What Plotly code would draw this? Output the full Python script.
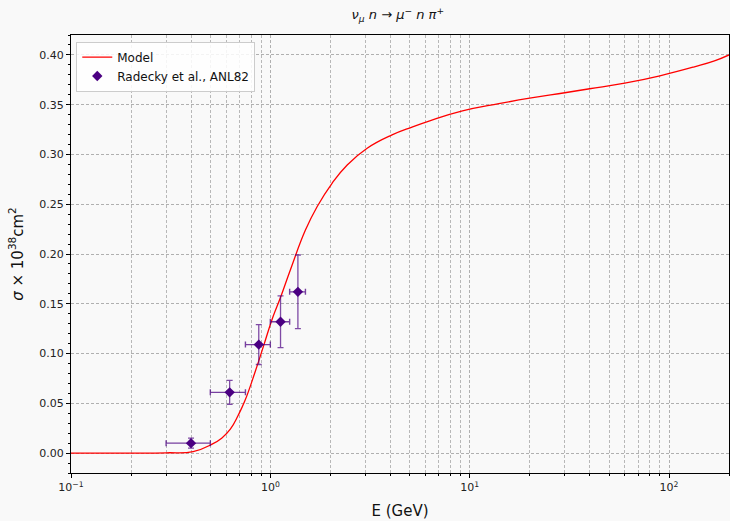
import plotly.graph_objects as go

# Model curve
model_E = [0.1, 0.2, 0.3, 0.41, 0.51, 0.57, 0.63, 0.69, 0.747, 0.84, 0.926, 1.027, 1.123, 1.26,
           1.50, 1.716, 2.04, 2.43, 3.06, 4.08, 5.14, 6.36, 9.2, 14, 20, 30, 40, 60, 90, 134, 169, 200]
model_sigma = [0.0, 0.0, 0.0003, 0.0015, 0.009, 0.015, 0.024, 0.038, 0.053, 0.082, 0.108, 0.136,
               0.156, 0.184, 0.224, 0.2475, 0.271, 0.2894, 0.3062, 0.3196, 0.3275, 0.334,
               0.3437, 0.351, 0.3565, 0.362, 0.366, 0.3716, 0.379, 0.388, 0.394, 0.400]

# Data points: Radecky et al., ANL82
data_E = [0.4, 0.625, 0.875, 1.125, 1.375]
data_E_lo = [0.1, 0.125, 0.125, 0.125, 0.125]
data_E_hi = [0.1, 0.125, 0.125, 0.125, 0.125]
data_sigma = [0.010, 0.061, 0.109, 0.132, 0.162]
data_sigma_err = [0.005, 0.012, 0.020, 0.026, 0.037]

xtick_vals = [0.1, 1, 10, 100]
xtick_text = ["10<sup>−1</sup>", "10<sup>0</sup>", "10<sup>1</sup>", "10<sup>2</sup>"]
xminor_vals = [0.2, 0.3, 0.4, 0.5, 0.6, 0.7, 0.8, 0.9,
               2, 3, 4, 5, 6, 7, 8, 9,
               20, 30, 40, 50, 60, 70, 80, 90, 200]
ytick_vals = [0.0, 0.05, 0.10, 0.15, 0.20, 0.25, 0.30, 0.35, 0.40]
yminor_vals = [v / 100 for v in range(-2, 43) if v % 5 != 0]

fig = go.Figure()
fig.add_trace(go.Scatter(
    x=model_E, y=model_sigma, mode="lines", name="Model",
    line=dict(color="red", width=1.3, shape="spline", smoothing=1.3, simplify=False),
))
fig.add_trace(go.Scatter(
    x=data_E, y=data_sigma, mode="markers", name="Radecky et al., ANL82",
    marker=dict(symbol="diamond", size=8, color="#4B0082"),
    error_x=dict(type="data", symmetric=False, array=data_E_hi, arrayminus=data_E_lo,
                 color="rgba(75,0,130,0.75)", thickness=1.4, width=3),
    error_y=dict(type="data", array=data_sigma_err,
                 color="rgba(75,0,130,0.7)", thickness=1.3, width=3),
))

grid = dict(showgrid=True, gridcolor="#b0b0b0", griddash="3px,2px", gridwidth=1)
fig.update_layout(
    width=730, height=521,
    margin=dict(l=71, r=1, t=35, b=48),
    paper_bgcolor="#f9f9f9", plot_bgcolor="rgba(0,0,0,0)",
    font=dict(family="DejaVu Sans", color="#222", size=11),
    title=dict(text="<i>ν<sub>μ</sub> n</i> → <i>μ<sup>−</sup> n π<sup>+</sup></i>",
               x=0.545, xanchor="center", y=0.972, yanchor="middle",
               font=dict(size=13, color="#111")),
    showlegend=True,
    legend=dict(x=0.008, y=0.985, xanchor="left", yanchor="top",
                bgcolor="rgba(255,255,255,0.85)", bordercolor="#cccccc", borderwidth=1,
                font=dict(size=12, color="#111")),
    xaxis=dict(type="log", range=[-1, 2.301], tickvals=xtick_vals, ticktext=xtick_text,
               ticks="outside", ticklen=4, tickcolor="black", automargin=False,
               showline=True, linecolor="black", linewidth=1, mirror=True,
               zeroline=False,
               title=dict(text="E (GeV)", font=dict(size=15, color="#111"), standoff=12),
               minor=dict(tickvals=xminor_vals, ticks="outside", ticklen=2, tickcolor="black",
                          showgrid=True, gridcolor="#b8b8b8", griddash="3px,2px", gridwidth=1),
               **grid),
    yaxis=dict(range=[-0.02, 0.42], tickvals=ytick_vals, tickformat=".2f",
               ticks="outside", ticklen=4, tickcolor="black", automargin=False,
               showline=True, linecolor="black", linewidth=1, mirror=True,
               zeroline=False,
               title=dict(text="<i>σ</i> × 10<sup>38</sup>cm<sup>2</sup>",
                          font=dict(size=15, color="#111"), standoff=12),
               minor=dict(tickvals=yminor_vals, ticks="outside", ticklen=2, tickcolor="black",
                          showgrid=False),
               **grid),
)
fig.write_html("out.html", config={"displayModeBar": False},
               post_script="document.body.style.margin='0px';")
